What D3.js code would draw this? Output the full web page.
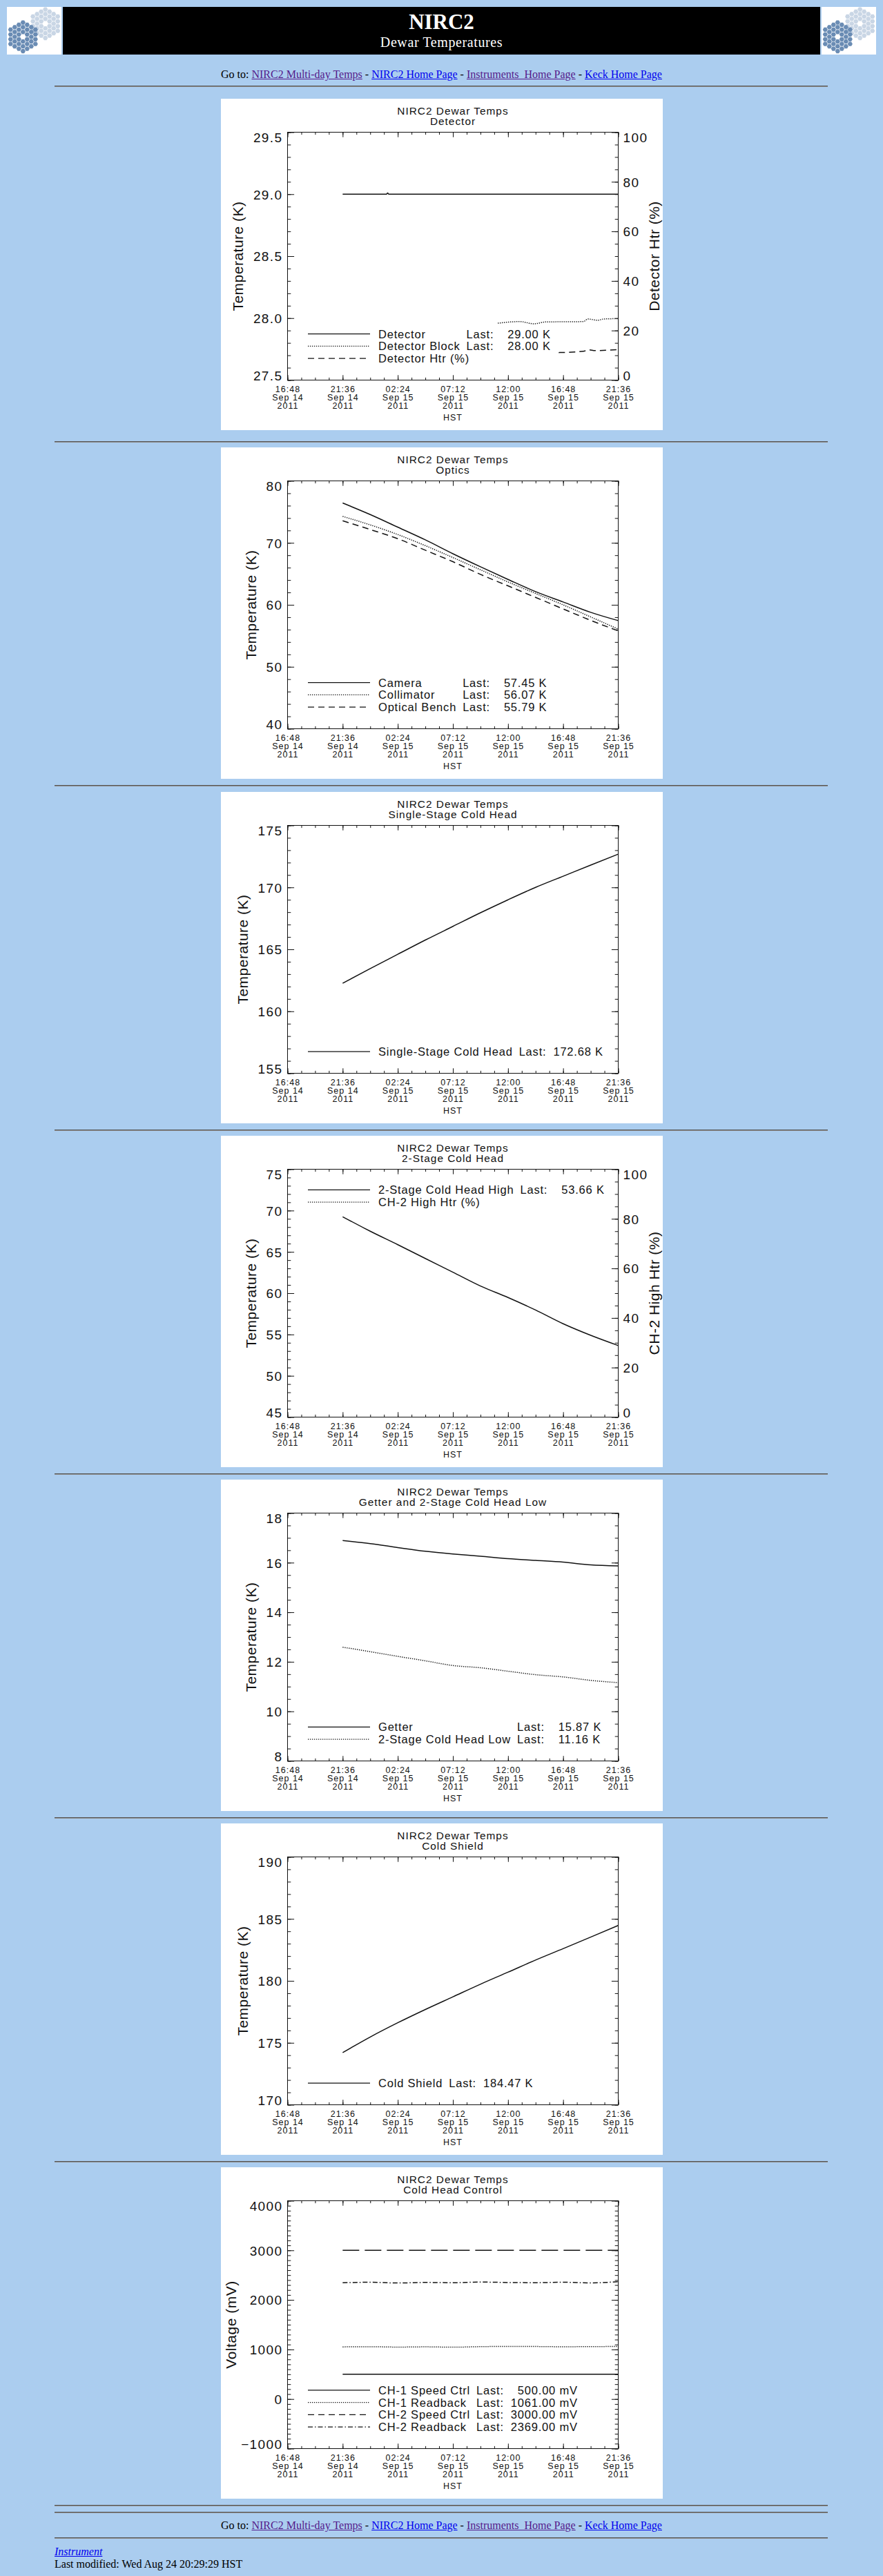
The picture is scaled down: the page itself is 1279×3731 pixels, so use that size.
<!DOCTYPE html>
<html>
<head>
<meta charset="utf-8">
<title>NIRC2 Dewar Temperatures</title>
<script src="https://cdn.jsdelivr.net/npm/d3@7"></script>
<style>
html, body { margin: 0; padding: 0; background: #abcdef; }
body { position: relative; width: 1279px; height: 3731px; overflow: hidden;
       font-family: "Liberation Serif", "Times New Roman", serif; font-size: 16px; color: #000; }
.abs { position: absolute; }
.nav { left: 0; width: 1279px; text-align: center; line-height: 20px; white-space: nowrap; }
a.seen { color: #551a8b; }
a.fresh { color: #0000ee; }
.rule { position: absolute; left: 79px; width: 1120px; height: 0;
        border-top: 1px solid #555; border-bottom: 1px solid #8c8c8c; }
.foot { left: 79px; line-height: 20px; white-space: nowrap; }
svg.panel { position: absolute; background: #fff; }
svg.panel text { font-family: "Liberation Sans", Arial, sans-serif; fill: #111; }
svg.panel .axis { color: #111; }
svg.panel .frame { fill: none; stroke: #111; stroke-width: 1; }
.title { font-size: 15.4px; letter-spacing: 1px; }
.ylab { font-size: 19px; letter-spacing: 1.4px; }
.xlab { font-size: 12.5px; letter-spacing: 1px; }
.axtitle { font-size: 21px; letter-spacing: 0.5px; }
.legend text { font-size: 16.5px; letter-spacing: 0.8px; white-space: pre; }
.series { fill: none; stroke: #111; stroke-width: 1.5; }
.legend line { stroke: #111; stroke-width: 1.3; }
</style>
</head>
<body>
<div class="abs nav" style="top:98px">Go to: <a class="seen" href="#">NIRC2 Multi-day Temps</a> - <a class="fresh" href="#">NIRC2 Home Page</a> - <a class="seen" href="#">Instruments&nbsp; Home Page</a> - <a class="fresh" href="#">Keck Home Page</a></div>
<div class="abs nav" style="top:3648px">Go to: <a class="seen" href="#">NIRC2 Multi-day Temps</a> - <a class="fresh" href="#">NIRC2 Home Page</a> - <a class="seen" href="#">Instruments&nbsp; Home Page</a> - <a class="fresh" href="#">Keck Home Page</a></div>
<div class="abs foot" style="top:3686px"><a class="fresh" href="#"><i>Instrument</i></a></div>
<div class="abs foot" style="top:3704px">Last modified: Wed Aug 24 20:29:29 HST</div>
<script>
// ---- data ----
const TIME_FORMAT = "%Y-%m-%d %H:%M";
const X_TICK_TIMES = ["2011-09-14 16:48", "2011-09-14 21:36", "2011-09-15 02:24", "2011-09-15 07:12",
                      "2011-09-15 12:00", "2011-09-15 16:48", "2011-09-15 21:36"];
const SAMPLE_TIMES = ["2011-09-14 21:36", "2011-09-15 00:00", "2011-09-15 02:24", "2011-09-15 04:48",
                      "2011-09-15 07:12", "2011-09-15 09:36", "2011-09-15 12:00", "2011-09-15 14:24",
                      "2011-09-15 16:48", "2011-09-15 19:12", "2011-09-15 21:36"];

const DETECTOR_TIMES = ["2011-09-14 21:36", "2011-09-15 01:25", "2011-09-15 01:31", "2011-09-15 01:37", "2011-09-15 21:36"];
const DETECTOR_TEMP = [29.00, 29.00, 29.01, 29.00, 29.00];
const DETECTOR_BLOCK_TIMES = ["2011-09-15 11:07", "2011-09-15 13:01", "2011-09-15 14:16", "2011-09-15 15:17",
                              "2011-09-15 18:34", "2011-09-15 18:57", "2011-09-15 19:50", "2011-09-15 20:20", "2011-09-15 21:36"];
const DETECTOR_BLOCK_TEMP = [27.959, 27.972, 27.954, 27.969, 27.972, 27.993, 27.983, 27.993, 27.996];
const DETECTOR_HTR_TIMES = ["2011-09-15 16:25", "2011-09-15 18:34", "2011-09-15 19:04", "2011-09-15 19:34", "2011-09-15 21:36"];
const DETECTOR_HTR_PCT = [11.1, 11.6, 12.2, 11.9, 12.3];
const DETECTOR_LABELS = ["Detector", "Detector Block", "Detector Htr (%)"];
const DETECTOR_LAST = [29.00, 28.00, null];

const CAMERA_TEMP = [76.43, 74.57, 72.53, 70.48, 68.25, 66.14, 64.10, 62.13, 60.46, 58.79, 57.45];
const COLLIMATOR_TEMP = [74.27, 72.90, 71.34, 69.55, 67.63, 65.66, 63.69, 61.84, 60.00, 58.05, 56.07];
const OPTICAL_BENCH_TEMP = [73.56, 72.15, 70.67, 68.81, 66.96, 64.91, 63.06, 61.20, 59.34, 57.49, 55.79];
const OPTICS_LABELS = ["Camera", "Collimator", "Optical Bench"];
const OPTICS_LAST = [57.45, 56.07, 55.79];

const SINGLE_STAGE_TEMP = [162.26, 163.45, 164.60, 165.75, 166.85, 167.95, 169.00, 170.00, 170.90, 171.80, 172.68];
const SINGLE_STAGE_LABELS = ["Single-Stage Cold Head"];
const SINGLE_STAGE_LAST = [172.68];

const TWO_STAGE_HIGH_TEMP = [69.25, 67.50, 65.87, 64.20, 62.54, 60.87, 59.48, 57.96, 56.30, 54.90, 53.66];
const CH2_HIGH_HTR_PCT = [];
const TWO_STAGE_LABELS = ["2-Stage Cold Head High", "CH-2 High Htr (%)"];
const TWO_STAGE_LAST = [53.66, null];

const GETTER_TEMP = [16.89, 16.77, 16.61, 16.46, 16.35, 16.26, 16.16, 16.09, 16.02, 15.91, 15.87];
const TWO_STAGE_LOW_TEMP = [12.59, 12.41, 12.22, 12.04, 11.85, 11.76, 11.62, 11.48, 11.39, 11.25, 11.16];
const GETTER_LABELS = ["Getter", "2-Stage Cold Head Low"];
const GETTER_LAST = [15.87, 11.16];

const COLD_SHIELD_TEMP = [174.21, 175.47, 176.62, 177.69, 178.71, 179.73, 180.70, 181.68, 182.60, 183.53, 184.47];
const COLD_SHIELD_LABELS = ["Cold Shield"];
const COLD_SHIELD_LAST = [184.47];

const CH1_SPEED_MV = [500, 500, 500, 500, 500, 500, 500, 500, 500, 500, 500];
const CH1_READBACK_MV = [1052, 1056, 1048, 1053, 1046, 1057, 1063, 1060, 1055, 1058, 1061];
const CH2_SPEED_MV = [3000, 3000, 3000, 3000, 3000, 3000, 3000, 3000, 3000, 3000, 3000];
const CH2_READBACK_MV = [2345, 2356, 2341, 2352, 2346, 2360, 2351, 2347, 2356, 2342, 2369];
const CONTROL_LABELS = ["CH-1 Speed Ctrl", "CH-1 Readback", "CH-2 Speed Ctrl", "CH-2 Readback"];
const CONTROL_LAST = [500.00, 1061.00, 3000.00, 2369.00];

// ---- layout ----
const PANEL_X = 320;
const PANEL_W = 640;
const PANEL_H = 480;
const PANEL_TOPS = [143, 648, 1147, 1645, 2143, 2641, 3139];
const RULE_TOPS = [124, 639, 1137, 1636, 2134, 2632, 3130, 3628, 3638, 3675];
const PLOT_LEFT = 96.5;
const PLOT_RIGHT = 575.5;
const PLOT_TOP = 48.5;
const PLOT_BOTTOM = 407.5;
const PLOT_MID = (PLOT_LEFT + PLOT_RIGHT) / 2;
const X_MAJOR_LEN = 7.2;
const Y_MAJOR_LEN = 9.6;
const Y_LABEL_PAD = 7;
const X_LABEL_BASELINES = [17.2, 29.4, 41.6];
const LEGEND_LINE_X1 = 126;
const LEGEND_LINE_X2 = 216;
const LEGEND_TEXT_X = 228;
const LEGEND_STEP = 17.8;
const LEGEND_BOTTOM_Y = 376.2;
const LEGEND_TOP_Y = 78.3;
const DASHES = { solid: null, dotted: "1.3,1.7", dashed: "9,6", longdash: "24,8", dashdot: "7,3,1.5,3" };

var parseTime = d3.timeParse(TIME_FORMAT);
var xTicks = X_TICK_TIMES.map(parseTime);

function series(times, values, style, axis) {
    return {
        points: values.map(function(v, i) { return { t: parseTime(times[i]), v: v }; }),
        style: style,
        axis: axis || "left"
    };
}

var PANELS = [
    { title: "Detector", yDomain: [27.5, 29.5], yStep: 0.5, yMinor: 0.1, yFormat: ".1f",
      yTitle: "Temperature (K)",
      right: { domain: [0, 100], step: 20, minor: 5, title: "Detector Htr (%)" },
      legendTop: false, unit: "K", pad: 6, labels: DETECTOR_LABELS, last: DETECTOR_LAST,
      styles: ["solid", "dotted", "dashed"],
      series: [series(DETECTOR_TIMES, DETECTOR_TEMP, "solid"),
               series(DETECTOR_BLOCK_TIMES, DETECTOR_BLOCK_TEMP, "dotted"),
               series(DETECTOR_HTR_TIMES, DETECTOR_HTR_PCT, "dashed", "right")] },
    { title: "Optics", yDomain: [40, 80], yStep: 10, yMinor: 2, yFormat: "d",
      yTitle: "Temperature (K)", right: null,
      legendTop: false, unit: "K", pad: 6, labels: OPTICS_LABELS, last: OPTICS_LAST,
      styles: ["solid", "dotted", "dashed"],
      series: [series(SAMPLE_TIMES, CAMERA_TEMP, "solid"),
               series(SAMPLE_TIMES, COLLIMATOR_TEMP, "dotted"),
               series(SAMPLE_TIMES, OPTICAL_BENCH_TEMP, "dashed")] },
    { title: "Single-Stage Cold Head", yDomain: [155, 175], yStep: 5, yMinor: 1, yFormat: "d",
      yTitle: "Temperature (K)", right: null,
      legendTop: false, unit: "K", pad: 6, labels: SINGLE_STAGE_LABELS, last: SINGLE_STAGE_LAST,
      styles: ["solid"],
      series: [series(SAMPLE_TIMES, SINGLE_STAGE_TEMP, "solid")] },
    { title: "2-Stage Cold Head", yDomain: [45, 75], yStep: 5, yMinor: 1, yFormat: "d",
      yTitle: "Temperature (K)",
      right: { domain: [0, 100], step: 20, minor: 5, title: "CH-2 High Htr (%)" },
      legendTop: true, unit: "K", pad: 6, labels: TWO_STAGE_LABELS, last: TWO_STAGE_LAST,
      styles: ["solid", "dotted"],
      series: [series(SAMPLE_TIMES, TWO_STAGE_HIGH_TEMP, "solid"),
               series(SAMPLE_TIMES, CH2_HIGH_HTR_PCT, "dotted", "right")] },
    { title: "Getter and 2-Stage Cold Head Low", yDomain: [8, 18], yStep: 2, yMinor: 0.5, yFormat: "d",
      yTitle: "Temperature (K)", right: null,
      legendTop: false, unit: "K", pad: 6, labels: GETTER_LABELS, last: GETTER_LAST,
      styles: ["solid", "dotted"],
      series: [series(SAMPLE_TIMES, GETTER_TEMP, "solid"),
               series(SAMPLE_TIMES, TWO_STAGE_LOW_TEMP, "dotted")] },
    { title: "Cold Shield", yDomain: [170, 190], yStep: 5, yMinor: 1, yFormat: "d",
      yTitle: "Temperature (K)", right: null,
      legendTop: false, unit: "K", pad: 6, labels: COLD_SHIELD_LABELS, last: COLD_SHIELD_LAST,
      styles: ["solid"],
      series: [series(SAMPLE_TIMES, COLD_SHIELD_TEMP, "solid")] },
    { title: "Cold Head Control", yDomain: [-1000, 4000], yStep: 1000, yMinor: 100, yFormat: "d",
      yTitle: "Voltage (mV)", right: null,
      legendTop: false, unit: "mV", pad: 7, labels: CONTROL_LABELS, last: CONTROL_LAST,
      styles: ["solid", "dotted", "dashed", "dashdot"],
      series: [series(SAMPLE_TIMES, CH1_SPEED_MV, "solid"),
               series(SAMPLE_TIMES, CH1_READBACK_MV, "dotted"),
               series(SAMPLE_TIMES, CH2_SPEED_MV, "longdash"),
               series(SAMPLE_TIMES, CH2_READBACK_MV, "dashdot")] }
];

function getMaxWidth(selection) {
    var maxWidth = 0;
    selection.each(function() {
        var w = this.getBBox().width;
        if (w > maxWidth) {
            maxWidth = w;
        }
    });
    return maxWidth;
}

function stepValues(domain, step) {
    var n = Math.round((domain[1] - domain[0]) / step);
    return d3.range(n + 1).map(function(i) { return domain[0] + i * step; });
}

function addAxis(svg, axis, tx, ty) {
    var g = svg.append("g")
        .attr("class", "axis")
        .attr("transform", "translate(" + tx + "," + ty + ")")
        .call(axis);
    g.select(".domain").remove();
    g.attr("font-size", null).attr("font-family", null);
    return g;
}

// IDL keeps the end labels inside the axis span
function labelDy(d, domain) {
    if (Math.abs(d - domain[1]) < 1e-9) return "0.72em";
    if (Math.abs(d - domain[0]) < 1e-9) return "0em";
    return "0.36em";
}

function drawYAxis(svg, scale, domain, step, minor, fmt, side) {
    var majors = stepValues(domain, step);
    var minors = stepValues(domain, minor);
    var make = side === "left" ? d3.axisLeft : d3.axisRight;
    var x = side === "left" ? PLOT_LEFT : PLOT_RIGHT;
    addAxis(svg, make(scale).tickValues(minors).tickSizeInner(-Y_MAJOR_LEN / 2)
        .tickSizeOuter(0).tickFormat(""), x, 0);
    var g = addAxis(svg, make(scale).tickValues(majors).tickSizeInner(-Y_MAJOR_LEN)
        .tickSizeOuter(0).tickPadding(Y_LABEL_PAD)
        .tickFormat(fmt ? d3.format(fmt) : ""), x, 0);
    var texts = g.selectAll(".tick text")
        .attr("class", "ylab")
        .attr("dy", function(d) { return labelDy(d, domain); });
    return texts;
}

function drawPanel(cfg, top) {
    var svg = d3.select("body").append("svg")
        .attr("class", "panel")
        .attr("width", PANEL_W)
        .attr("height", PANEL_H)
        .style("left", PANEL_X + "px")
        .style("top", top + "px");

    var xScale = d3.scaleTime()
        .domain([xTicks[0], xTicks[xTicks.length - 1]])
        .range([PLOT_LEFT, PLOT_RIGHT]);
    var yScale = d3.scaleLinear().domain(cfg.yDomain).range([PLOT_BOTTOM, PLOT_TOP]);
    var yRight = cfg.right ? d3.scaleLinear().domain(cfg.right.domain).range([PLOT_BOTTOM, PLOT_TOP]) : null;

    svg.append("text").attr("class", "title").attr("text-anchor", "middle")
        .attr("x", PLOT_MID).attr("y", 23.3).text("NIRC2 Dewar Temps");
    svg.append("text").attr("class", "title").attr("text-anchor", "middle")
        .attr("x", PLOT_MID).attr("y", 38.3).text(cfg.title);

    svg.append("rect").attr("class", "frame")
        .attr("x", PLOT_LEFT).attr("y", PLOT_TOP)
        .attr("width", PLOT_RIGHT - PLOT_LEFT).attr("height", PLOT_BOTTOM - PLOT_TOP);

    // time axes, bottom and top
    var minorTimes = d3.range(+xTicks[0], +xTicks[xTicks.length - 1] + 1, 72 * 60000)
        .map(function(t) { return new Date(t); });
    addAxis(svg, d3.axisBottom(xScale).tickValues(minorTimes).tickSizeInner(-X_MAJOR_LEN / 2)
        .tickSizeOuter(0).tickFormat(""), 0, PLOT_BOTTOM);
    addAxis(svg, d3.axisTop(xScale).tickValues(minorTimes).tickSizeInner(-X_MAJOR_LEN / 2)
        .tickSizeOuter(0).tickFormat(""), 0, PLOT_TOP);
    addAxis(svg, d3.axisTop(xScale).tickValues(xTicks).tickSizeInner(-X_MAJOR_LEN)
        .tickSizeOuter(0).tickFormat(""), 0, PLOT_TOP);
    var xAxisG = addAxis(svg, d3.axisBottom(xScale).tickValues(xTicks).tickSizeInner(-X_MAJOR_LEN)
        .tickSizeOuter(0), 0, PLOT_BOTTOM);
    var formats = [d3.timeFormat("%H:%M"), d3.timeFormat("%b %d"), d3.timeFormat("%Y")];
    xAxisG.selectAll(".tick text").each(function(d) {
        var t = d3.select(this).text(null).attr("y", null).attr("dy", null).attr("class", "xlab");
        formats.forEach(function(f, i) {
            t.append("tspan").attr("x", 0).attr("y", X_LABEL_BASELINES[i]).text(f(d));
        });
    });
    svg.append("text").attr("class", "xlab").attr("text-anchor", "middle")
        .attr("x", PLOT_MID).attr("y", 465.7).text("HST");

    // value axes
    var leftLabels = drawYAxis(svg, yScale, cfg.yDomain, cfg.yStep, cfg.yMinor, cfg.yFormat, "left");
    var labelLeft = PLOT_LEFT + d3.min(leftLabels.nodes(), function(n) { return n.getBBox().x; });
    var midY = (PLOT_TOP + PLOT_BOTTOM) / 2;
    svg.append("text").attr("class", "axtitle").attr("text-anchor", "middle")
        .attr("transform", "translate(" + Math.max(labelLeft - 14.5, 22) + "," + midY + ") rotate(-90)")
        .text(cfg.yTitle);

    if (cfg.right) {
        var rightLabels = drawYAxis(svg, yRight, cfg.right.domain, cfg.right.step, cfg.right.minor, "d", "right");
        var labelRight = PLOT_RIGHT + d3.max(rightLabels.nodes(), function(n) {
            var b = n.getBBox();
            return b.x + b.width;
        });
        svg.append("text").attr("class", "axtitle").attr("text-anchor", "middle")
            .attr("transform", "translate(" + Math.min(labelRight + 23, PANEL_W - 5) + "," + midY + ") rotate(-90)")
            .text(cfg.right.title);
    } else {
        drawYAxis(svg, yScale, cfg.yDomain, cfg.yStep, cfg.yMinor, null, "right");
    }

    // data
    cfg.series.forEach(function(s) {
        if (s.points.length === 0) return;
        var ys = s.axis === "right" ? yRight : yScale;
        var line = d3.line()
            .x(function(d) { return xScale(d.t); })
            .y(function(d) { return ys(d.v); })
            .curve(d3.curveMonotoneX);
        svg.append("path")
            .datum(s.points)
            .attr("class", "series")
            .attr("d", line)
            .attr("stroke-dasharray", DASHES[s.style])
            .attr("stroke-width", s.style === "dashdot" ? 2 : null);
    });

    // legend
    var n = cfg.labels.length;
    var rows = cfg.labels.map(function(label, i) {
        return {
            label: label,
            last: cfg.last[i],
            style: cfg.styles[i],
            y: cfg.legendTop ? LEGEND_TOP_Y + i * LEGEND_STEP : LEGEND_BOTTOM_Y - (n - 1 - i) * LEGEND_STEP
        };
    });
    var legend = svg.append("g").attr("class", "legend");
    legend.selectAll("line")
        .data(rows)
        .enter()
        .append("line")
        .attr("x1", LEGEND_LINE_X1)
        .attr("x2", LEGEND_LINE_X2)
        .attr("y1", function(d) { return d.y; })
        .attr("y2", function(d) { return d.y; })
        .attr("stroke-dasharray", function(d) { return DASHES[d.style]; });
    var names = legend.selectAll("text.name")
        .data(rows)
        .enter()
        .append("text")
        .attr("class", "name")
        .attr("x", LEGEND_TEXT_X)
        .attr("y", function(d) { return d.y; })
        .attr("dy", "0.36em")
        .text(function(d) { return d.label; });
    var withLast = rows.filter(function(d) { return d.last !== null; });
    var nameMax = getMaxWidth(names.filter(function(d) { return d.last !== null; }));
    var lastX = LEGEND_TEXT_X + nameMax + 9;
    var lastTexts = legend.selectAll("text.last")
        .data(withLast)
        .enter()
        .append("text")
        .attr("class", "last")
        .attr("x", lastX)
        .attr("y", function(d) { return d.y; })
        .attr("dy", "0.36em")
        .text("Last:");
    var lastW = getMaxWidth(lastTexts);
    var probe = legend.append("text").text("0");
    var digitW = probe.node().getComputedTextLength();
    probe.remove();
    var fmt = d3.format(".2f");
    legend.selectAll("text.value")
        .data(withLast)
        .enter()
        .append("text")
        .attr("class", "value")
        .attr("x", function(d) {
            return lastX + lastW + 10 + (cfg.pad - fmt(d.last).length) * digitW;
        })
        .attr("y", function(d) { return d.y; })
        .attr("dy", "0.36em")
        .text(function(d) { return fmt(d.last) + " " + cfg.unit; });
}

// ---- page header ----
var header = d3.select("body").append("svg")
    .attr("class", "abs")
    .style("left", "0px")
    .style("top", "0px")
    .attr("width", 1279)
    .attr("height", 82);

var HEX_S = 4.0;
var HEX_R = 3.6;
var hexPath = "M" + d3.range(6).map(function(i) {
    var a = i * Math.PI / 3;
    return [HEX_R * Math.cos(a), HEX_R * Math.sin(a)].join(",");
}).join("L") + "Z";

function drawMirror(g, cx, cy, color) {
    var cells = [];
    for (var q = -3; q <= 3; q++) {
        for (var r = -3; r <= 3; r++) {
            if (Math.abs(q + r) > 3 || (q === 0 && r === 0)) continue;
            cells.push([cx + 1.5 * HEX_S * q, cy + Math.sqrt(3) * HEX_S * (r + q / 2)]);
        }
    }
    g.selectAll(null)
        .data(cells)
        .enter()
        .append("path")
        .attr("d", hexPath)
        .attr("transform", function(d) { return "translate(" + d[0] + "," + d[1] + ")"; })
        .attr("fill", color);
}

function drawLogo(x0, id) {
    header.append("clipPath").attr("id", id)
        .append("rect").attr("width", 79).attr("height", 69);
    var g = header.append("g")
        .attr("transform", "translate(" + x0 + ",10)")
        .attr("clip-path", "url(#" + id + ")");
    g.append("rect").attr("width", 79).attr("height", 69).attr("fill", "#fff");
    drawMirror(g, 55.7, 24.3, "#c9d6e5");
    drawMirror(g, 23.3, 43.3, "#6a8cb4");
}

drawLogo(10, "logoL");
drawLogo(1190, "logoR");
header.append("rect").attr("x", 91).attr("y", 10).attr("width", 1097).attr("height", 69).attr("fill", "#000");
header.append("text")
    .attr("x", 639.5).attr("y", 41.7)
    .attr("text-anchor", "middle")
    .attr("fill", "#fff")
    .style("font", "bold 31px 'Liberation Serif', serif")
    .text("NIRC2");
header.append("text")
    .attr("x", 639.5).attr("y", 67.5)
    .attr("text-anchor", "middle")
    .attr("fill", "#fff")
    .style("font", "20px 'Liberation Serif', serif")
    .style("letter-spacing", "0.6px")
    .text("Dewar Temperatures");

// ---- rules and panels ----
RULE_TOPS.forEach(function(t) {
    d3.select("body").append("div").attr("class", "rule").style("top", t + "px");
});
PANELS.forEach(function(cfg, i) {
    drawPanel(cfg, PANEL_TOPS[i]);
});
</script>
</body>
</html>
